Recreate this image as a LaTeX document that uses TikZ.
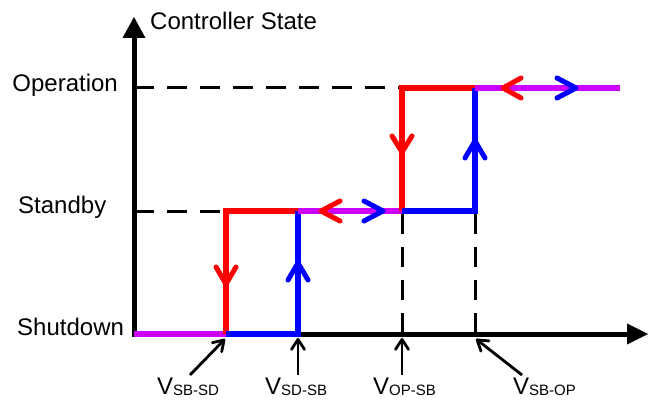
\documentclass[tikz,border=0pt]{standalone}
\usepackage{fontspec}
\setmainfont{Liberation Sans}
\usetikzlibrary{arrows.meta}
\definecolor{cred}{RGB}{255,0,0}
\definecolor{cblue}{RGB}{0,0,255}
\definecolor{cpurple}{RGB}{204,0,255}
\newcommand{\vsub}[1]{V\raisebox{-1.5pt}{\fontsize{15}{15}\selectfont #1}}
\begin{document}
\begin{tikzpicture}[x=1pt,y=-1pt,
  axisln/.style={line width=5pt},
  lvl/.style={line width=5.5pt},
  dashln/.style={line width=3pt, dash pattern=on 20pt off 13pt},
  chev/.style={line width=5pt, line cap=round, line join=round},
  ptr/.style={line width=2.8pt, -{Straight Barb[length=10pt,width=13pt,round]}},
  lab/.style={inner sep=0pt, font=\fontsize{24}{28}\selectfont}
]
\useasboundingbox (0,0) rectangle (651,404);

% key coordinates
\coordinate (org) at (134,334);
\coordinate (ytop) at (134,17);
\coordinate (xend) at (648,334);
\coordinate (a1) at (226,334);
\coordinate (a2) at (226,211);
\coordinate (b1) at (298,334);
\coordinate (b2) at (298,211);
\coordinate (c1) at (402,211);
\coordinate (c2) at (402,88);
\coordinate (d1) at (475,211);
\coordinate (d2) at (475,88);
\coordinate (e2) at (620,88);

% dashed guides
\draw[dashln] (134,88) -- (399,88);
\draw[dashln] (134,211) -- (223,211);
\draw[dashln] (402,214) -- (402,334);
\draw[dashln] (475,214) -- (475,334);

% axes
\draw[axisln] (134,337) -- (134,36);
\fill (122.5,38) -- (ytop) -- (145.5,38) -- cycle;
\draw[axisln] (131.5,334) -- (628,334);
\fill (627,323.5) -- (xend) -- (627,344.5) -- cycle;

% state lines
\draw[lvl,cpurple] (org) -- (a1);
\draw[lvl,cred] (a1) -- (a2) -- (b2);
\draw[lvl,cblue] (a1) -- (b1) -- (b2);
\draw[lvl,cpurple] (b2) -- (c1);
\draw[lvl,cred] (c1) -- (c2) -- (d2);
\draw[lvl,cblue] (c1) -- (d1) -- (d2);
\draw[lvl,cpurple] (d2) -- (e2);

% direction chevrons
\draw[chev,cred] (216,267) -- (226,284) -- (236,267);
\draw[chev,cblue] (288,280) -- (298,263) -- (308,280);
\draw[chev,cred] (340,201) -- (321,211) -- (340,221);
\draw[chev,cblue] (364,201) -- (383,211) -- (364,221);
\draw[chev,cred] (392,136) -- (402,152) -- (412,136);
\draw[chev,cblue] (465,158) -- (475,141) -- (485,158);
\draw[chev,cred] (521,78) -- (503,88) -- (521,98);
\draw[chev,cblue] (557,78) -- (576,88) -- (557,98);

% labels
\node[lab, anchor=base west] (cs) at (150,30) {Controller State};
\node[lab, anchor=base east] (op) at (118,92) {Operation};
\node[lab, anchor=base west] (sb) at (18,213) {Standby};
\node[lab, anchor=base west] (sd) at (17,335) {Shutdown};

\node[lab, anchor=base west] (v1) at (157,394) {\vsub{SB-SD}};
\node[lab, anchor=base west] (v2) at (265,394) {\vsub{SD-SB}};
\node[lab, anchor=base west] (v3) at (373,394) {\vsub{OP-SB}};
\node[lab, anchor=base west] (v4) at (513,394) {\vsub{SB-OP}};

\coordinate (t1) at (190,375);
\coordinate (t2) at (298,375);
\coordinate (t3) at (402,375);
\coordinate (t4) at (522,375);
\draw[ptr] (t1) -- (225,339);
\draw[ptr] (t2) -- (298,338);
\draw[ptr] (t3) -- (402,338);
\draw[ptr] (t4) -- (476,339);
\end{tikzpicture}
\end{document}
